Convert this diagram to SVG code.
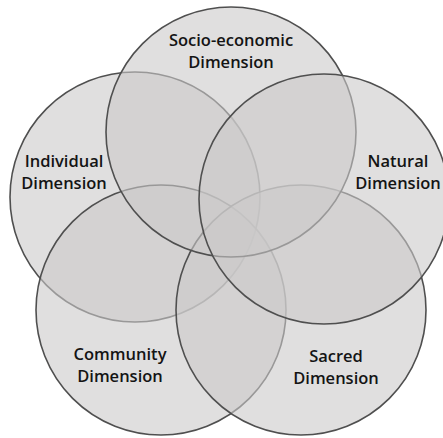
<svg xmlns="http://www.w3.org/2000/svg" width="443" height="438" viewBox="0 0 443 438">
  <style>
    .ring { fill: #cbc9ca; fill-opacity: 0.6; stroke: #4f4f4f; stroke-width: 1.6; }
    .label { font-family: "Open Sans", "Noto Sans", "Liberation Sans", sans-serif; font-weight: 600; font-size: 16.5px; fill: #141414; text-anchor: middle; }
  </style>
  <rect width="443" height="438" fill="#ffffff"/>
  <!-- circles are stacked; each later fill softens the outlines beneath it -->
  <g id="individual">
    <circle class="ring" cx="135" cy="197" r="125"/>
    <text class="label" x="64" y="167">Individual</text>
    <text class="label" x="64" y="189">Dimension</text>
  </g>
  <g id="community">
    <circle class="ring" cx="161" cy="310" r="125"/>
    <text class="label" x="120" y="360">Community</text>
    <text class="label" x="120" y="382">Dimension</text>
  </g>
  <g id="sacred">
    <circle class="ring" cx="301" cy="310" r="125"/>
    <text class="label" x="336" y="362">Sacred</text>
    <text class="label" x="336" y="384">Dimension</text>
  </g>
  <g id="socio-economic">
    <circle class="ring" cx="231" cy="132" r="125"/>
    <text class="label" x="231" y="46">Socio-economic</text>
    <text class="label" x="231" y="68">Dimension</text>
  </g>
  <g id="natural">
    <circle class="ring" cx="324" cy="199" r="125"/>
    <text class="label" x="398" y="167">Natural</text>
    <text class="label" x="398" y="189">Dimension</text>
  </g>
  <g id="connectors"/>
</svg>
